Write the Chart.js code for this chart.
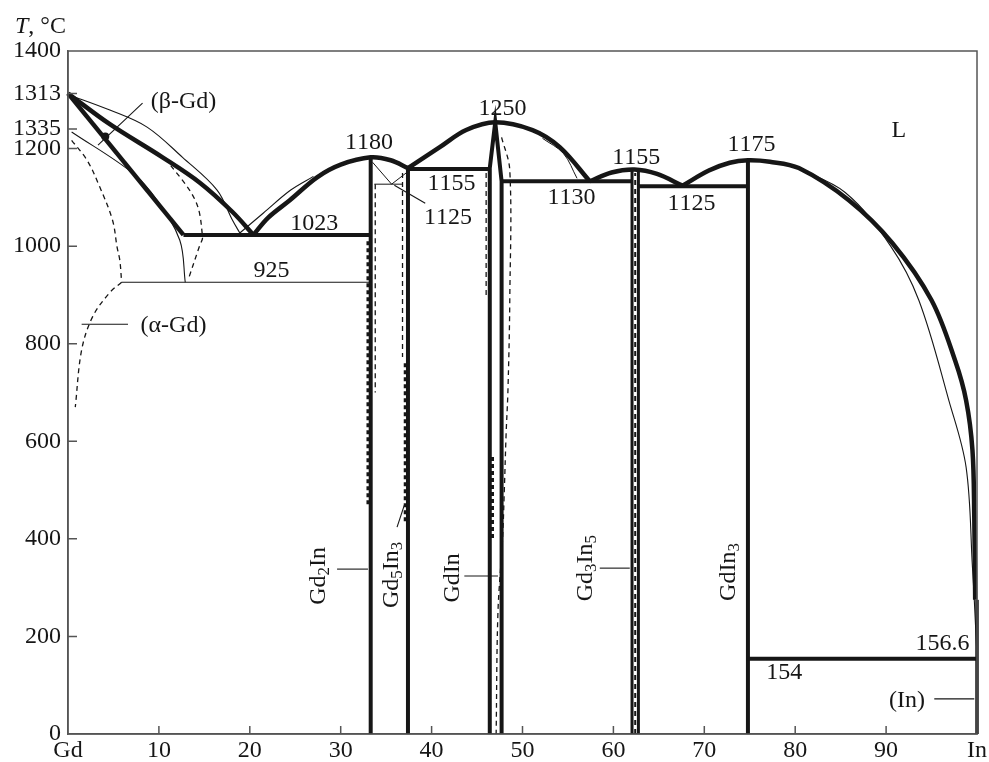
<!DOCTYPE html>
<html lang="en">
<head>
<meta charset="UTF-8">
<title>Gd-In phase diagram</title>
<style>
  body { margin: 0; background: #fff; }
  canvas { display: block; }
</style>
<script src="https://cdn.jsdelivr.net/npm/chart.js"></script>
</head>
<body>
<canvas id="chart" width="989" height="762"></canvas>
<script>
// axis ticks (composition, at.% In; temperature, °C)
const xTickValues = [0, 10, 20, 30, 40, 50, 60, 70, 80, 90, 100];
const xTickLabels = ['Gd', '10', '20', '30', '40', '50', '60', '70', '80', '90', 'In'];
const yTickValues = [0, 200, 400, 600, 800, 1000, 1200, 1240, 1313, 1400];
const yTickLabels = ['0', '200', '400', '600', '800', '1000', '1200', '1335', '1313', '1400'];

// thick lines: liquidus
const gdLiquidus = [[0, 1313], [4.6, 1250], [10.4, 1182], [14.5, 1130], [18.1, 1070], [20.4, 1023]];
const gdSolidus = [[0, 1313], [12.7, 1023]];
const liquidus2 = [[20.4, 1023], [22, 1058], [24.4, 1094], [27.4, 1141], [30, 1167], [33.3, 1182], [35.5, 1176], [37.4, 1160]];
const liquidus3 = [[37.4, 1160], [40.9, 1203], [43.8, 1238], [47.0, 1254], [51.1, 1238], [54.1, 1203], [57.4, 1133]];
const liquidus4 = [[57.4, 1133], [59.8, 1151], [62.3, 1157], [64.8, 1148], [67.6, 1124]];
const liquidus5 = [[67.6, 1124], [70.5, 1155], [72.8, 1171], [74.8, 1176], [77.2, 1173], [80.4, 1160], [85.9, 1094],
                   [90.7, 1006], [95, 889], [97.6, 765], [98.8, 684], [99.5, 582], [99.7, 445], [99.8, 275]];

// thick lines: invariants and compounds
const eutectic1023 = [[12.7, 1023], [33.3, 1023]];
const peritectic1155 = [[37.4, 1158], [46.4, 1158]];
const eutectic1130 = [[47.7, 1133], [62.1, 1133]];
const eutectic1125 = [[62.7, 1123], [74.8, 1123]];
const eutectic154 = [[74.8, 154], [100, 154]];
const gd2In = [[33.3, 0], [33.3, 1182]];
const gd5In3 = [[37.4, 0], [37.4, 1160]];
const gdIn = [[46.4, 0], [46.4, 1160], [47.0, 1254], [47.7, 1133], [47.7, 0]];
const gd3In5a = [[62.05, 0], [62.05, 1157]];
const gd3In5b = [[62.75, 0], [62.75, 1155]];
const gdIn3 = [[74.8, 0], [74.8, 1176]];
const inSide = [[100, 0], [100, 275]];

// thin lines
const calcLiquidusGd = [[0, 1311], [4.6, 1279], [8.7, 1244], [12.6, 1182], [16.4, 1115], [18.1, 1053], [18.9, 1027]];
const calcLiquidusGd2 = [[18.9, 1027], [21.5, 1068], [24.5, 1115], [27, 1143]];
const betaSolvusThin = [[0.4, 1234], [7.1, 1150], [9.8, 1094], [12.3, 1012], [12.9, 926]];
const line925 = [[5.9, 926], [33.3, 926]];
const vLines1180 = [[33.5, 1172], [35.6, 1127], [37.2, 1150]];
const line1125 = [[33.7, 1127], [36.8, 1127]];
const calcLiquidusGdIn = [[52.2, 1221], [54.5, 1190], [56, 1139]];
const calcLiquidusIn = [[80, 1162], [85.5, 1110], [90.5, 1000], [93.6, 889], [96.9, 684], [98.8, 547], [99.5, 342], [99.7, 275], [100, 160]];

// dashed lines
const alphaBetaDashed = [[0.4, 1217], [2.1, 1176], [3.5, 1121], [4.9, 1053], [5.4, 998], [5.7, 971], [5.9, 926]];
const alphaSolvusDashed = [[5.9, 926], [4.6, 905], [2.7, 855], [1.5, 787], [0.8, 670]];
const betaDashed2 = [[10.7, 1180], [14, 1094], [14.8, 1018], [14.5, 1002], [13.2, 930]];
const gd2InDashed = [[33.8, 1127], [33.8, 700]];
const gd2InDashedThick = [[33.0, 1010], [33.0, 470]];
const gd5In3Dashed = [[36.8, 1150], [36.8, 773]];
const gd5In3DashedThick = [[37.1, 760], [37.1, 430]];
const gdInDashedLeft = [[46.0, 1150], [46.0, 900]];
const gdInDashedThick = [[46.7, 568], [46.7, 398]];
const gdInDashedRight = [[47.7, 1223], [48.6, 1156], [48.6, 890], [48.4, 705], [48.2, 617], [48.0, 500], [47.8, 398], [47.3, 250], [47.1, 0]];
const gd3In5Dashed = [[62.4, 0], [62.4, 1150]];

// leader lines and marker
const leaders = [
  [[3.3, 1207], [8.2, 1293]],
  [[1.5, 840], [6.6, 840]],
  [[35.9, 1125], [39.3, 1088]],
  [[29.6, 338], [33.0, 338]],
  [[36.2, 424], [37.0, 469]],
  [[43.6, 324], [47.3, 324]],
  [[58.5, 340], [61.8, 340]],
  [[95.3, 72], [99.7, 72]]
];
const betaDot = [[4.1, 1225]];

// text labels: [text, x, T, rotated]  ("_" marks a subscript char)
const labels = [
  ['(β-Gd)', 12.7, 1297, false],
  ['(α-Gd)', 11.6, 836, false],
  ['1023', 27.1, 1045, false],
  ['925', 22.4, 949, false],
  ['1180', 33.1, 1213, false],
  ['1250', 47.8, 1281, false],
  ['1155', 42.2, 1127, false],
  ['1125', 41.8, 1059, false],
  ['1130', 55.4, 1100, false],
  ['1155', 62.5, 1182, false],
  ['1125', 68.6, 1086, false],
  ['1175', 75.2, 1207, false],
  ['L', 91.4, 1236, false],
  ['156.6', 96.2, 186, false],
  ['154', 78.8, 125, false],
  ['(In)', 92.3, 68, false],
  ['Gd_2In', 27.6, 324, true],
  ['Gd_5In_3', 35.6, 326, true],
  ['GdIn', 42.3, 320, true],
  ['Gd_3In_5', 56.9, 340, true],
  ['GdIn_3', 72.7, 332, true]
];

const INK = '#161616';
const FONT = '"Liberation Serif", "DejaVu Serif", serif';

function mk(pts, width, extra) {
  return Object.assign({
    data: pts.map(p => ({ x: p[0], y: p[1] })),
    showLine: true,
    borderColor: INK,
    backgroundColor: INK,
    borderWidth: width,
    pointRadius: 0,
    tension: 0,
    clip: false,
    fill: false
  }, extra || {});
}
const curve = { tension: 0.35 };
const dash = { borderDash: [5, 4] };
const dashThick = { borderDash: [4, 3] };

const datasets = [
  mk(calcLiquidusGd, 1.1, curve),
  mk(calcLiquidusGd2, 1.1, curve),
  mk(betaSolvusThin, 1.1, curve),
  mk(line925, 1.1),
  mk(vLines1180, 1.0),
  mk(line1125, 1.0),
  mk(calcLiquidusGdIn, 1.0, curve),
  mk(calcLiquidusIn, 1.1, curve),
  mk(alphaBetaDashed, 1.3, Object.assign({}, curve, dash)),
  mk(alphaSolvusDashed, 1.3, Object.assign({}, curve, dash)),
  mk(betaDashed2, 1.3, Object.assign({}, curve, dash)),
  mk(gd2InDashed, 1.3, dash),
  mk(gd2InDashedThick, 3, dashThick),
  mk(gd5In3Dashed, 1.3, dash),
  mk(gd5In3DashedThick, 3, dashThick),
  mk(gdInDashedLeft, 1.3, dash),
  mk(gdInDashedThick, 3, dashThick),
  mk(gdInDashedRight, 1.3, Object.assign({}, curve, dash)),
  mk(gd3In5Dashed, 2, dash),
  mk(gdLiquidus, 4.5, curve),
  mk(gdSolidus, 4.5),
  mk(liquidus2, 4.5, curve),
  mk(liquidus3, 4.5, curve),
  mk(liquidus4, 4.5, curve),
  mk(liquidus5, 4.5, curve),
  mk(eutectic1023, 4),
  mk(peritectic1155, 4),
  mk(eutectic1130, 4),
  mk(eutectic1125, 4),
  mk(eutectic154, 4),
  mk(gd2In, 4),
  mk(gd5In3, 4),
  mk(gdIn, 4),
  mk(gd3In5a, 3),
  mk(gd3In5b, 3),
  mk(gdIn3, 4),
  mk(inSide, 3.5)
];
leaders.forEach(l => datasets.push(mk(l, 1.1)));
datasets.push(mk(betaDot, 0, { showLine: false, pointRadius: 4 }));

function drawRich(ctx, str, cx, cy, rotated) {
  const parts = [];
  for (let i = 0; i < str.length; i++) {
    if (str[i] === '_') { parts.push([str[i + 1], true]); i++; }
    else parts.push([str[i], false]);
  }
  const big = '24px ' + FONT, small = '17px ' + FONT;
  let w = 0;
  parts.forEach(p => { ctx.font = p[1] ? small : big; w += ctx.measureText(p[0]).width; });
  ctx.save();
  ctx.translate(cx, cy);
  if (rotated) ctx.rotate(-Math.PI / 2);
  ctx.textAlign = 'left';
  ctx.textBaseline = 'middle';
  ctx.fillStyle = INK;
  let x = -w / 2;
  parts.forEach(p => {
    ctx.font = p[1] ? small : big;
    ctx.fillText(p[0], x, p[1] ? 6 : 0);
    x += ctx.measureText(p[0]).width;
  });
  ctx.restore();
}

const decorations = {
  id: 'decorations',
  afterDraw(chart) {
    const { ctx, chartArea: a, scales: { x, y } } = chart;
    ctx.save();
    // frame
    ctx.strokeStyle = '#555';
    ctx.lineWidth = 1.5;
    ctx.strokeRect(a.left, a.top, a.right - a.left, a.bottom - a.top);
    // inward ticks
    ctx.beginPath();
    yTickValues.forEach(v => {
      if (v === 0 || v === 1400) return;
      const py = y.getPixelForValue(v);
      ctx.moveTo(a.left, py); ctx.lineTo(a.left + 9, py);
    });
    xTickValues.forEach(v => {
      if (v === 0 || v === 100) return;
      const px = x.getPixelForValue(v);
      ctx.moveTo(px, a.bottom); ctx.lineTo(px, a.bottom - 8);
    });
    ctx.stroke();
    // labels
    labels.forEach(l => drawRich(ctx, l[0], x.getPixelForValue(l[1]), y.getPixelForValue(l[2]), l[3]));
    // axis title
    ctx.fillStyle = INK;
    ctx.textBaseline = 'alphabetic';
    ctx.textAlign = 'left';
    ctx.font = 'italic 24px ' + FONT;
    ctx.fillText('T', 15, 33);
    const tw = ctx.measureText('T').width;
    ctx.font = '24px ' + FONT;
    ctx.fillText(', °C', 15 + tw, 33);
    ctx.restore();
  }
};

new Chart(document.getElementById('chart'), {
  type: 'scatter',
  data: { datasets },
  plugins: [decorations],
  options: {
    responsive: false,
    animation: false,
    layout: { padding: { top: 51, right: 11, left: 0, bottom: 0 } },
    plugins: { legend: { display: false }, tooltip: { enabled: false } },
    scales: {
      x: {
        min: 0, max: 100,
        afterBuildTicks: s => { s.ticks = xTickValues.map(v => ({ value: v })); },
        afterFit: s => { s.height = 28; },
        grid: { display: false, drawTicks: false },
        border: { display: true, color: '#555', width: 1.5 },
        ticks: {
          padding: 2, autoSkip: false, maxRotation: 0, color: INK,
          font: { family: FONT, size: 24 },
          callback: (v) => { const i = xTickValues.indexOf(v); return i >= 0 ? xTickLabels[i] : ''; }
        }
      },
      y: {
        min: 0, max: 1400,
        afterBuildTicks: s => { s.ticks = yTickValues.map(v => ({ value: v })); },
        afterFit: s => { s.width = 68; },
        grid: { display: false, drawTicks: false },
        border: { display: true, color: '#555', width: 1.5 },
        ticks: {
          padding: 7, autoSkip: false, color: INK,
          font: { family: FONT, size: 24 },
          callback: (v) => { const i = yTickValues.indexOf(v); return i >= 0 ? yTickLabels[i] : ''; }
        }
      }
    }
  }
});
</script>
</body>
</html>
